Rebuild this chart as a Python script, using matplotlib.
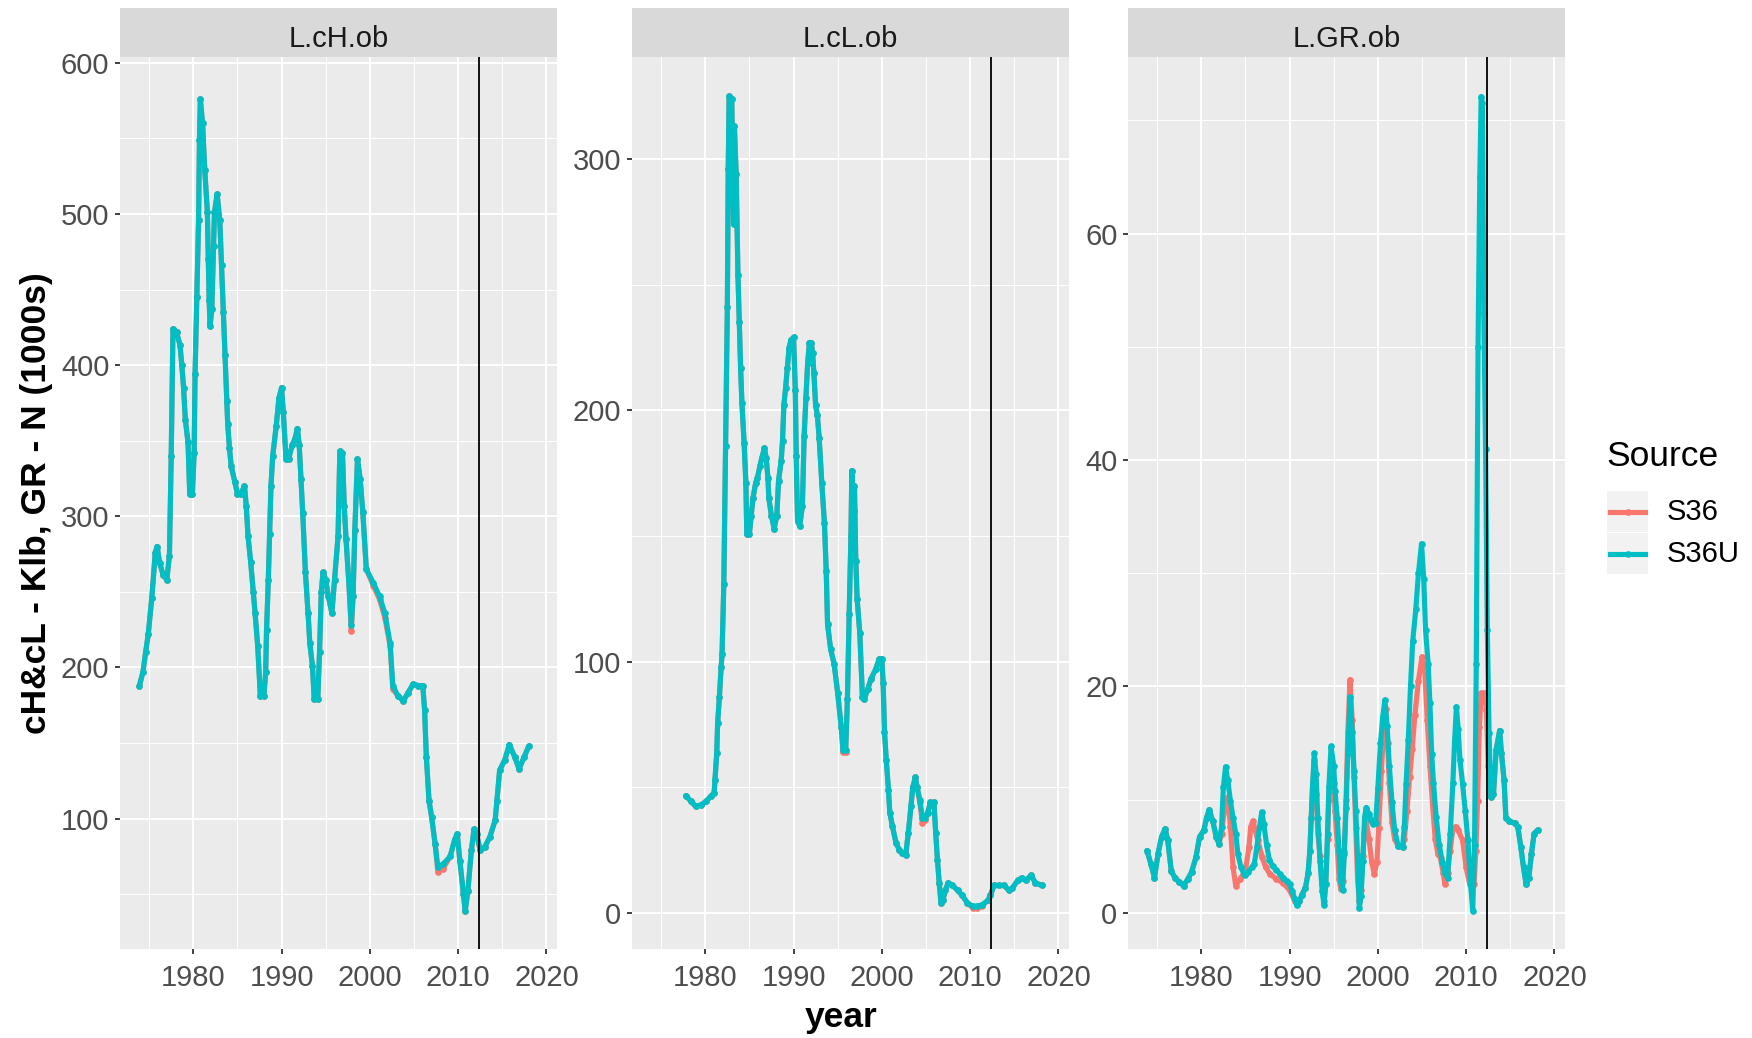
import matplotlib
matplotlib.use("Agg")
import matplotlib.pyplot as plt
from matplotlib.patches import Rectangle
from matplotlib.lines import Line2D

plt.rcParams['font.family'] = ['Liberation Sans', 'DejaVu Sans']

# ---------------- data ----------------
facets = ["L.cH.ob", "L.cL.ob", "L.GR.ob"]
series_names = ["S36", "S36U"]
series_colors = ["#F8766D", "#00BFC4"]
vline_year = 2012.4

# Panel 1: L.cH.ob
ch_years = [1973.9, 1974.3, 1974.6, 1974.9, 1975.3, 1975.7, 1975.9, 1976.2, 1976.6, 1977.0,
            1977.3, 1977.5, 1977.7, 1978.1, 1978.5, 1978.7, 1978.9, 1979.1, 1979.4, 1979.6,
            1979.9, 1980.1, 1980.2, 1980.4, 1980.6, 1980.7, 1980.8, 1981.05, 1981.3, 1981.6,
            1981.7, 1981.8, 1981.9, 1982.1, 1982.3, 1982.4, 1982.7, 1983.0, 1983.2, 1983.4,
            1983.6, 1983.8, 1983.9, 1984.1, 1984.3, 1984.7, 1985.0, 1985.4, 1985.8, 1986.0,
            1986.2, 1986.5, 1986.8, 1987.0, 1987.3, 1987.6, 1988.0, 1988.2, 1988.3, 1988.5,
            1988.65, 1988.8, 1989.0, 1989.4, 1989.7, 1990.0, 1990.2, 1990.5, 1990.8, 1991.2,
            1991.5, 1991.8, 1992.0, 1992.2, 1992.4, 1992.7, 1993.0, 1993.2, 1993.5, 1993.7,
            1994.1, 1994.3, 1994.5, 1994.7, 1995.0, 1995.3, 1995.7, 1996.0, 1996.4, 1996.6,
            1996.9, 1997.1, 1997.3, 1997.6, 1997.9, 1998.1, 1998.3, 1998.6, 1998.9, 1999.2,
            1999.6, 2000.4, 2001.1, 2001.7, 2002.3, 2002.6, 2003.2, 2003.8, 2004.3, 2004.9,
            2005.5, 2006.0, 2006.2, 2006.4, 2006.7, 2007.0, 2007.4, 2007.7, 2008.3, 2009.1,
            2009.6, 2009.9, 2010.2, 2010.6, 2010.8, 2011.1, 2011.5, 2011.8, 2012.1, 2012.5,
            2013.0, 2013.6, 2014.2, 2014.4, 2014.7, 2015.3, 2015.8, 2016.4, 2016.9, 2017.5,
            2018.0]
ch_s36u = [188, 197, 210, 222, 246, 276, 280, 269, 261, 258,
           274, 340, 424, 422, 413, 400, 385, 364, 349, 315,
           315, 342, 394, 445, 496, 549, 576, 560, 529, 501,
           470, 443, 426, 437, 479, 501, 513, 496, 466, 435,
           407, 376, 361, 345, 333, 323, 315, 315, 320, 307,
           287, 270, 250, 236, 214, 181, 181, 197, 225, 258,
           288, 320, 340, 360, 378, 385, 369, 338, 338, 347,
           351, 358, 347, 325, 302, 263, 236, 216, 201, 179,
           179, 210, 250, 263, 258, 247, 236, 258, 287, 343,
           342, 307, 285, 258, 228, 247, 291, 338, 325, 303,
           265, 256, 247, 236, 216, 188, 181, 178, 183, 189,
           188, 188, 172, 141, 112, 101, 83, 68, 70, 75,
           86, 90, 72, 50, 39, 52, 79, 93, 90, 79,
           81, 88, 99, 112, 132, 139, 149, 141, 133, 141,
           148]
ch_s36 = [188, 197, 210, 222, 246, 276, 280, 269, 261, 258,
          274, 340, 424, 422, 413, 400, 385, 364, 349, 315,
          315, 342, 394, 445, 496, 549, 576, 560, 529, 501,
          470, 443, 426, 437, 479, 501, 513, 496, 466, 435,
          407, 376, 361, 345, 333, 323, 315, 315, 320, 307,
          287, 270, 250, 236, 214, 181, 181, 197, 225, 258,
          288, 320, 340, 360, 378, 385, 369, 338, 338, 347,
          351, 358, 347, 325, 302, 263, 236, 216, 201, 179,
          179, 210, 250, 263, 258, 247, 236, 258, 287, 343,
          342, 307, 285, 258, 224, 247, 291, 338, 325, 303,
          265, 254, 245, 233, 214, 186, 181, 178, 183, 189,
          188, 188, 172, 141, 112, 101, 83, 65, 67, 75,
          86, 90, 72, 50, 39, 52, 79, 93, 90, 79,
          81, 88, 99, 112, 132, 139, 149, 141, 133, 141,
          148]

# Panel 2: L.cL.ob
cl_years = [1977.8, 1978.4, 1978.9, 1979.5, 1980.1, 1980.6, 1981.0, 1981.1, 1981.3, 1981.4,
            1981.6, 1981.8, 1981.9, 1982.1, 1982.3, 1982.5, 1982.6, 1982.7, 1983.0, 1983.2,
            1983.3, 1983.5, 1983.7, 1983.85, 1984.0, 1984.15, 1984.4, 1984.6, 1984.7, 1985.0,
            1985.2, 1985.4, 1985.7, 1985.9, 1986.2, 1986.4, 1986.7, 1986.9, 1987.1, 1987.2,
            1987.5, 1987.8, 1988.1, 1988.3, 1988.6, 1988.75, 1988.9, 1989.1, 1989.3, 1989.5,
            1989.7, 1990.0, 1990.2, 1990.3, 1990.45, 1990.7, 1991.0, 1991.2, 1991.4, 1991.6,
            1991.8, 1992.0, 1992.15, 1992.3, 1992.5, 1992.7, 1992.9, 1993.2, 1993.5, 1993.7,
            1993.85, 1994.2, 1994.6, 1995.0, 1995.4, 1995.6, 1995.9, 1996.1, 1996.3, 1996.5,
            1996.6, 1996.8, 1996.9, 1997.05, 1997.2, 1997.5, 1997.8, 1998.0, 1998.4, 1998.75,
            1999.3, 1999.7, 2000.0, 2000.15, 2000.3, 2000.5, 2000.75, 2000.9, 2001.2, 2001.6,
            2002.0, 2002.3, 2002.7, 2003.0, 2003.3, 2003.5, 2003.8, 2004.0, 2004.3, 2004.6,
            2004.9, 2005.2, 2005.5, 2005.9, 2006.1, 2006.3, 2006.5, 2006.7, 2006.9, 2007.2,
            2007.5, 2008.0, 2008.6, 2009.1, 2009.7, 2010.3, 2010.8, 2011.4, 2012.0, 2012.3,
            2012.7, 2013.3, 2013.85, 2014.4, 2014.8, 2015.4, 2015.85, 2016.3, 2016.9, 2017.4,
            2018.1]
cl_s36u = [46.7, 44.4, 42.5, 43, 44.4, 46.4, 47.7, 53, 63.6, 75.6,
           86, 98, 103, 131, 186, 241, 296, 325, 324, 274,
           313, 294, 254, 235, 217, 203, 187, 171, 151, 151,
           158, 165, 171, 173, 178, 181, 185, 181, 173, 165,
           158, 153, 158, 172, 180, 188, 202, 209, 217, 225,
           228, 229, 208, 182, 156, 154, 162, 190, 205, 219,
           227, 227, 223, 215, 202, 198, 189, 171, 155, 136,
           115, 105, 99, 87.5, 74, 65, 65, 85, 119, 150,
           176, 160, 170, 140, 125, 111.5, 86, 85, 89, 93,
           97, 101, 101, 91.5, 72, 61, 49, 40, 34.5, 28,
           25, 24, 23, 32, 42.5, 50, 54, 50, 45, 38,
           38, 40, 44, 44, 32, 21, 12, 4, 5, 9,
           12, 11, 9, 7, 4, 2.7, 2.7, 3.4, 5, 7,
           11, 11, 11, 9, 10, 13, 14, 13, 15, 12,
           11]
cl_s36 = [46.7, 44.4, 42.5, 43, 44.4, 46.4, 47.7, 53, 63.6, 75.6,
          86, 98, 103, 131, 186, 241, 296, 325, 324, 274,
          313, 294, 254, 235, 217, 203, 187, 171, 151, 151,
          158, 165, 171, 173, 178, 181, 185, 181, 173, 165,
          158, 153, 158, 172, 180, 188, 202, 209, 217, 225,
          228, 229, 208, 182, 156, 154, 162, 190, 205, 219,
          227, 227, 223, 215, 202, 198, 189, 171, 155, 136,
          115, 105, 99, 87.5, 74, 64, 64, 85, 119, 150,
          176, 160, 170, 140, 125, 111.5, 86, 85, 89, 93,
          97, 101, 101, 91.5, 72, 61, 49, 40, 34.5, 28,
          25, 24, 23, 32, 42.5, 50, 54, 50, 44, 36,
          37, 40, 44, 44, 32, 21, 12, 4, 5, 9,
          12, 11, 9, 7, 4, 2.0, 2.0, 3.0, 5, 7,
          11, 11, 11, 9, 10, 13, 14, 13, 15, 12,
          11]

# Panel 3: L.GR.ob
gr_years_s36u = [1973.85, 1974.3, 1974.7, 1975.1, 1975.5, 1975.9, 1976.2, 1976.6, 1977.0, 1977.5,
                 1978.0, 1978.5, 1978.9, 1979.4, 1979.8, 1980.3, 1980.6, 1980.9, 1981.3, 1981.7,
                 1982.0, 1982.3, 1982.5, 1982.75, 1983.0, 1983.3, 1983.6, 1983.9, 1984.15, 1984.5,
                 1984.9, 1985.3, 1985.7, 1986.0, 1986.3, 1986.6, 1986.85, 1987.1, 1987.4, 1987.7,
                 1988.1, 1988.5, 1988.9, 1989.3, 1989.7, 1990.0, 1990.3, 1990.6, 1990.8, 1991.1,
                 1991.4, 1991.8, 1992.1, 1992.3, 1992.45, 1992.6, 1992.8, 1993.0, 1993.2, 1993.45,
                 1993.7, 1993.9, 1994.1, 1994.3, 1994.45, 1994.7, 1995.0, 1995.15, 1995.4, 1995.6,
                 1995.8, 1996.0, 1996.2, 1996.4, 1996.6, 1996.85, 1997.1, 1997.3, 1997.5, 1997.7,
                 1997.9, 1998.1, 1998.3, 1998.5, 1998.7, 1999.0, 1999.25, 1999.5, 1999.75, 2000.0,
                 2000.3, 2000.55, 2000.8, 2001.05, 2001.3, 2001.6, 2001.9, 2002.3, 2002.8, 2003.0,
                 2003.2, 2003.45, 2003.7, 2003.95, 2004.3, 2004.6, 2004.95, 2005.2, 2005.4, 2005.7,
                 2005.9, 2006.1, 2006.3, 2006.6, 2006.95, 2007.3, 2007.6, 2007.9, 2008.2, 2008.5,
                 2008.7, 2008.9, 2009.1, 2009.3, 2009.6, 2009.9, 2010.2, 2010.5, 2010.75, 2010.95,
                 2011.15, 2011.35, 2011.55, 2011.7, 2011.85, 2012.0, 2012.2, 2012.4, 2012.6, 2012.8,
                 2013.1, 2013.4, 2013.8, 2014.0, 2014.3, 2014.5, 2014.9, 2015.5, 2015.85, 2016.2,
                 2016.5, 2016.8, 2017.1, 2017.4, 2017.7, 2018.1]
gr_s36u = [5.5, 4.3, 3.1, 5.2, 6.7, 7.4, 6.4, 3.7, 3.1, 2.7,
           2.4, 3.0, 3.6, 4.9, 6.7, 7.3, 8.4, 9.1, 8.1, 6.7,
           6.1, 7.6, 11.1, 12.9, 11.7, 9.9, 8.4, 7.0, 5.2, 4.0,
           3.3, 3.6, 4.0, 4.3, 5.8, 7.6, 8.9, 7.8, 6.0, 4.7,
           4.1, 3.8, 3.4, 3.1, 2.8, 2.5, 1.9, 1.2, 0.7, 1.0,
           1.6, 2.2, 3.5, 5.5, 8.4, 11.1, 14.1, 12.3, 8.4, 4.6,
           1.9, 0.7, 2.5, 7.0, 11.1, 14.7, 13.0, 10.8, 8.4, 5.5,
           2.8, 2.0, 5.2, 9.3, 14.1, 19.1, 16.0, 12.5, 9.0, 5.0,
           0.4, 1.5, 4.6, 8.5, 9.3, 8.7, 8.2, 7.8, 7.9, 11.0,
           15.0, 17.3, 18.8, 16.5, 13.0, 9.8, 7.3, 5.9, 5.8, 7.6,
           11.4, 15.3, 20.0, 24.0, 26.8, 30.0, 32.6, 29.5, 25.0, 22.0,
           18.5, 14.0, 11.5, 8.5, 6.0, 4.5, 3.5, 3.1, 7.0, 11.5,
           15.3, 18.2, 16.2, 13.5, 11.4, 9.0, 6.4, 2.5, 0.2, 6.0,
           22.0, 50.0, 65.0, 72.1, 71.5, 53.0, 41.0, 25.0, 15.9, 10.2,
           10.5, 14.4, 16.1, 14.1, 11.7, 8.4, 8.1, 7.9, 7.6, 5.8,
           4.0, 2.5, 3.1, 5.2, 7.0, 7.3]

gr_years_s36 = [1973.85, 1974.3, 1974.7, 1975.1, 1975.5, 1975.9, 1976.2, 1976.6, 1977.0, 1977.5,
                1978.0, 1978.5, 1978.9, 1979.4, 1979.8, 1980.3, 1980.6, 1980.9, 1981.3, 1981.7,
                1982.0, 1982.3, 1982.6, 1983.0, 1983.3, 1983.6, 1983.9, 1984.4, 1985.0, 1985.4,
                1985.6, 1985.85, 1986.4, 1986.9, 1987.3, 1987.8, 1988.5, 1989.3, 1990.0, 1990.6,
                1990.8, 1991.1, 1991.4, 1991.8, 1992.1, 1992.3, 1992.45, 1992.6, 1992.8, 1993.0,
                1993.2, 1993.45, 1993.7, 1993.9, 1994.1, 1994.3, 1994.45, 1994.7, 1995.0, 1995.15,
                1995.4, 1995.6, 1995.8, 1996.0, 1996.2, 1996.4, 1996.6, 1996.85, 1997.1, 1997.3,
                1997.5, 1997.7, 1997.9, 1998.1, 1998.3, 1998.5, 1998.7, 1999.0, 1999.3, 1999.6,
                1999.9, 2000.1, 2000.4, 2000.65, 2000.9, 2001.1, 2001.3, 2001.6, 2001.9, 2002.3,
                2002.8, 2003.0, 2003.3, 2003.6, 2003.9, 2004.2, 2004.6, 2005.0, 2005.3, 2005.6,
                2005.9, 2006.2, 2006.5, 2006.8, 2007.1, 2007.4, 2007.6, 2007.9, 2008.2, 2008.5,
                2008.8, 2009.1, 2009.6, 2010.0, 2010.4, 2010.9, 2011.1, 2011.3, 2011.5, 2011.7,
                2012.1, 2012.3, 2012.5, 2012.8, 2013.1, 2013.4, 2013.8, 2014.0, 2014.3, 2014.5,
                2014.9, 2015.5, 2015.85, 2016.2, 2016.5, 2016.8, 2017.1, 2017.4, 2017.7, 2018.1]
gr_s36 = [5.5, 4.3, 3.1, 5.2, 6.7, 7.4, 6.4, 3.7, 3.1, 2.7,
          2.4, 3.0, 3.6, 4.9, 6.7, 7.3, 8.4, 9.1, 8.1, 6.7,
          6.1, 7.0, 9.0, 10.2, 7.6, 4.0, 2.4, 3.0, 3.7, 5.8,
          7.6, 8.1, 6.4, 4.9, 4.0, 3.4, 3.0, 2.6, 2.0, 1.0,
          0.8, 1.0, 1.6, 2.2, 3.5, 5.5, 8.4, 11.1, 13.5, 10.5,
          7.0, 5.0, 2.5, 1.0, 2.5, 6.5, 10.0, 13.5, 11.5, 9.0,
          6.0, 3.0, 2.1, 2.8, 5.5, 10.0, 16.0, 20.6, 17.0, 12.0,
          7.5, 3.0, 1.0, 2.0, 5.0, 7.5, 8.0, 6.5, 4.5, 3.4,
          4.5, 7.5, 12.5, 16.0, 18.0, 15.0, 11.5, 8.0, 6.5, 5.9,
          5.8, 6.5, 9.0, 12.0, 14.5, 17.5, 20.5, 22.6, 21.5, 17.0,
          13.0, 9.5, 6.5, 5.2, 4.8, 3.5, 2.5, 3.5, 5.5, 7.5,
          7.6, 7.3, 6.4, 4.0, 2.5, 2.5, 5.5, 9.9, 16.4, 19.4,
          19.4, 17.9, 13.0, 10.2, 10.5, 14.4, 16.1, 14.1, 11.7, 8.4,
          8.1, 7.9, 7.6, 5.8, 4.0, 2.5, 3.1, 5.2, 7.0, 7.3]

panel_data = [
    ((ch_years, ch_s36), (ch_years, ch_s36u)),
    ((cl_years, cl_s36), (cl_years, cl_s36u)),
    ((gr_years_s36, gr_s36), (gr_years_s36u, gr_s36u)),
]
y_limits = [(13.8, 603.8), (-14.3, 340.6), (-3.2, 75.6)]
y_major = [[100, 200, 300, 400, 500, 600], [0, 100, 200, 300], [0, 20, 40, 60]]
y_minor = [[50, 150, 250, 350, 450, 550], [50, 150, 250], [10, 30, 50, 70]]
x_major = [1980, 1990, 2000, 2010, 2020]
x_minor = [1975, 1985, 1995, 2005, 2015]
x_limits = (1971.7, 2021.2)

# ---------------- figure ----------------
W, H = 1752, 1038
fig = plt.figure(figsize=(W / 100, H / 100), dpi=100)
fig.patch.set_facecolor("white")

panel_left_px = [120, 632, 1128]
panel_w_px = 437
panel_top_px, panel_bot_px = 57, 949
strip_top_px = 7.5
LW = 3.7
MS = 4.8

for i, left in enumerate(panel_left_px):
    ax = fig.add_axes([left / W, (H - panel_bot_px) / H, panel_w_px / W,
                       (panel_bot_px - panel_top_px) / H])
    ax.set_facecolor("#EBEBEB")
    for s in ax.spines.values():
        s.set_visible(False)
    ax.set_axisbelow(True)
    ax.set_xlim(*x_limits)
    ax.set_ylim(*y_limits[i])
    ax.set_xticks(x_major)
    ax.set_xticks(x_minor, minor=True)
    ax.set_yticks(y_major[i])
    ax.set_yticks(y_minor[i], minor=True)
    ax.grid(which="major", color="white", linewidth=1.4)
    ax.grid(which="minor", color="white", linewidth=0.7)
    ax.tick_params(which="major", length=3.6, width=1.3, color="#333333",
                   labelsize=21, labelcolor="#4D4D4D", pad=4)
    ax.tick_params(axis="x", which="major", pad=7)
    ax.tick_params(which="minor", length=0)

    for (xs, ys), col in zip(panel_data[i], series_colors):
        ax.plot(xs, ys, color=col, linewidth=LW, solid_joinstyle="round",
                solid_capstyle="round", zorder=2)
        ax.plot(xs, ys, linestyle="none", marker="o", markersize=MS,
                color=col, markeredgewidth=0, zorder=2)
    ax.axvline(vline_year, color="black", linewidth=1.3, zorder=3)

    sax = fig.add_axes([left / W, (H - panel_top_px) / H, panel_w_px / W,
                        (panel_top_px - strip_top_px) / H])
    sax.set_facecolor("#D9D9D9")
    sax.set_xticks([])
    sax.set_yticks([])
    for s in sax.spines.values():
        s.set_visible(False)
    sax.text(0.5, (57 - 47) / (57 - strip_top_px), facets[i], ha="center", va="baseline",
             fontsize=21, color="#1A1A1A", transform=sax.transAxes)

# axis titles
fig.text(841 / W, 1 - 1018 / H, "year", ha="center", va="center",
         fontsize=25.5, fontweight="bold")
fig.text(37 / W, 1 - 503 / H, "cH&cL - Klb, GR - N (1000s)", ha="center",
         va="center", rotation=90, fontsize=25.5, fontweight="bold")

# legend (ggplot style)
fig.text(1606 / W, 1 - 456 / H, "Source", ha="left", va="center", fontsize=25.5)
key_tops = [491, 533]
for name, col, ktop in zip(series_names, series_colors, key_tops):
    fig.patches.append(Rectangle((1607 / W, 1 - (ktop + 41) / H), 41 / W, 41 / H,
                                 transform=fig.transFigure, facecolor="#F2F2F2",
                                 edgecolor="none"))
    yk = 1 - (ktop + 20.5) / H
    fig.lines.append(Line2D([1610 / W, 1645 / W], [yk, yk], transform=fig.transFigure,
                            color=col, linewidth=LW))
    fig.lines.append(Line2D([1627.5 / W], [yk], transform=fig.transFigure, color=col,
                            marker="o", markersize=MS, markeredgewidth=0))
    fig.text(1667 / W, yk, name, ha="left", va="center", fontsize=21)

fig.savefig("out.png", dpi=100)
